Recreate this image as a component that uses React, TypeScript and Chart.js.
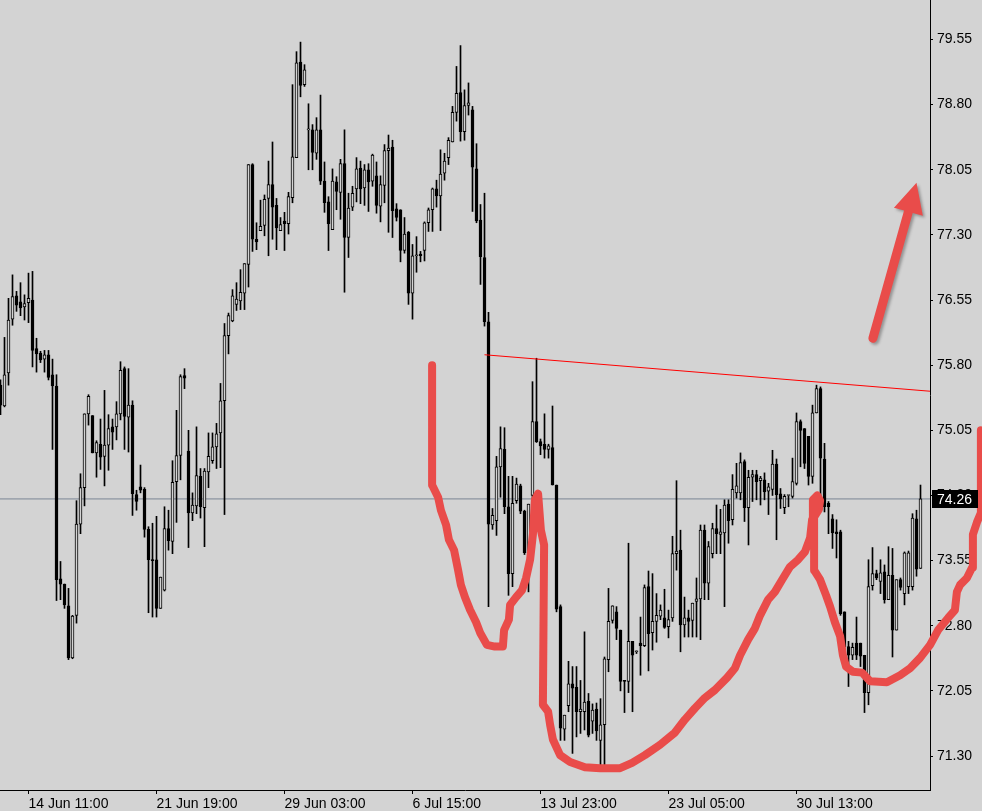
import React, { useEffect, useRef } from "react";
import { Chart, registerables } from "chart.js";

Chart.register(...registerables);

// ---- Candle data (H4 bars, index 0..230) ----
const opens = [
  75.57, 75.33, 75.71, 76.33, 76.60, 76.53, 76.47, 76.52, 76.55, 75.99,
  75.94, 75.87, 75.92, 75.69, 75.56, 73.34, 73.28, 73.03, 72.43, 72.92,
  73.97, 74.39, 75.24, 75.22, 74.79, 74.89, 74.75, 74.88, 75.09, 75.09,
  75.24, 75.76, 75.20, 75.34, 74.31, 74.40, 74.37, 73.91, 73.56, 73.56,
  73.00, 73.21, 73.92, 73.77, 74.46, 74.76, 75.68, 74.81, 74.10, 74.18,
  74.52, 74.16, 74.57, 74.70, 74.86, 75.02, 75.39, 76.14, 76.31, 76.50,
  76.54, 76.63, 76.96, 78.11, 77.25, 77.35, 77.41, 77.72, 77.88, 77.64,
  77.35, 77.46, 77.43, 77.73, 78.19, 79.29, 79.03, 78.51, 78.51, 78.24,
  78.51, 77.92, 77.68, 77.36, 77.91, 77.79, 78.12, 77.27, 77.62, 77.83,
  78.07, 77.84, 78.05, 77.92, 77.98, 77.63, 77.87, 78.27, 78.31, 77.60,
  77.59, 77.12, 77.33, 76.63, 77.06, 77.08, 77.12, 77.44, 77.59, 77.83,
  77.75, 78.01, 78.19, 78.37, 78.71, 78.94, 78.49, 78.79, 78.74, 78.06,
  77.47, 77.04, 76.30, 73.96, 74.01, 74.63, 74.83, 74.17, 73.40, 74.24,
  74.41, 74.12, 73.64, 74.30, 75.15, 74.92, 74.89, 74.83, 74.85, 74.42,
  73.02, 71.61, 71.88, 72.13, 72.09, 71.81, 71.81, 71.93, 71.70, 71.84,
  71.48, 71.66, 72.41, 72.86, 72.96, 72.75, 72.17, 72.16, 72.62, 72.50,
  72.60, 72.57, 73.25, 72.72, 72.85, 72.91, 72.89, 72.79, 72.89, 73.63,
  73.67, 72.81, 72.89, 72.86, 73.08, 73.11, 73.90, 73.29, 73.63, 73.92,
  73.85, 73.87, 74.20, 74.02, 74.33, 74.33, 74.69, 74.16, 74.51, 74.54,
  74.47, 74.48, 74.35, 74.37, 74.66, 74.32, 74.16, 74.30, 74.29, 74.44,
  75.15, 75.07, 74.98, 74.52, 75.25, 75.53, 74.72, 74.21, 74.03, 73.88,
  73.88, 72.96, 72.56, 72.46, 72.60, 72.60, 72.46, 72.03, 73.26, 73.40,
  73.31, 73.42, 73.10, 73.38, 72.75, 73.33, 73.17, 73.25, 73.25, 74.03,
  73.46,
];
const highs = [
  75.63, 76.12, 76.57, 76.84, 76.65, 76.75, 76.61, 76.86, 76.88, 76.11,
  75.96, 75.97, 75.97, 75.87, 75.69, 73.54, 73.28, 73.23, 72.92, 74.24,
  74.55, 75.24, 75.46, 75.22, 74.93, 75.18, 75.51, 75.23, 75.18, 75.38,
  75.84, 75.78, 75.76, 75.39, 74.36, 74.65, 74.39, 73.94, 73.98, 74.06,
  73.36, 74.17, 74.13, 74.70, 75.28, 75.69, 75.76, 75.05, 74.33, 75.09,
  74.61, 74.61, 75.02, 75.02, 75.13, 75.59, 76.28, 76.40, 76.67, 76.75,
  76.90, 76.97, 78.11, 78.12, 77.44, 77.70, 77.76, 78.15, 78.37, 77.72,
  77.50, 77.56, 77.79, 79.03, 79.41, 79.52, 79.26, 78.81, 78.57, 78.65,
  78.91, 78.14, 77.74, 78.06, 77.97, 78.17, 78.51, 77.78, 77.86, 78.19,
  78.15, 78.11, 78.12, 78.23, 78.14, 77.98, 78.34, 78.45, 78.39, 77.66,
  77.59, 77.50, 77.34, 77.19, 77.28, 77.11, 77.45, 77.61, 77.84, 77.93,
  78.28, 78.24, 78.42, 78.78, 79.24, 79.48, 78.97, 79.05, 78.78, 78.35,
  77.65, 77.78, 76.41, 74.15, 74.75, 75.09, 75.08, 74.52, 74.52, 74.50,
  74.43, 74.13, 74.20, 75.61, 75.88, 74.95, 75.24, 74.89, 75.33, 74.42,
  73.04, 71.77, 72.39, 72.33, 72.33, 72.17, 72.73, 72.02, 71.90, 71.91,
  71.96, 72.44, 73.23, 73.03, 73.02, 72.75, 72.17, 73.75, 72.62, 72.51,
  72.90, 73.27, 73.43, 73.40, 73.17, 73.04, 73.22, 72.98, 73.83, 74.47,
  73.90, 73.13, 72.98, 73.06, 73.35, 73.96, 73.96, 73.77, 73.98, 74.19,
  74.14, 74.25, 74.25, 74.54, 74.67, 74.79, 74.71, 74.59, 74.59, 74.59,
  74.52, 74.56, 74.44, 74.82, 74.72, 74.38, 74.31, 74.30, 74.73, 75.25,
  75.17, 75.07, 74.98, 75.34, 75.57, 75.55, 74.90, 74.23, 74.08, 74.02,
  73.90, 72.96, 72.62, 72.60, 72.90, 72.60, 72.46, 73.56, 73.70, 73.44,
  73.56, 73.50, 73.71, 73.69, 73.33, 73.35, 73.65, 73.66, 74.09, 74.13,
  74.42,
];
const lows = [
  75.23, 75.32, 75.57, 76.26, 76.42, 76.37, 76.32, 76.29, 75.78, 75.72,
  75.83, 75.72, 75.63, 74.83, 73.09, 73.10, 73.00, 72.41, 72.42, 72.83,
  73.86, 74.18, 75.11, 74.79, 74.51, 74.60, 74.41, 74.59, 74.83, 74.94,
  75.17, 74.83, 74.80, 74.07, 74.13, 74.33, 73.82, 72.95, 72.90, 72.90,
  73.00, 73.20, 73.67, 73.63, 73.99, 74.48, 75.53, 73.70, 74.01, 74.09,
  74.04, 73.71, 74.39, 74.67, 74.61, 74.62, 74.08, 75.93, 76.30, 76.43,
  76.44, 76.44, 76.70, 77.11, 77.13, 77.35, 77.29, 77.06, 77.25, 77.13,
  77.35, 77.12, 77.31, 77.67, 78.19, 78.89, 79.01, 78.05, 78.05, 78.17,
  77.88, 77.56, 77.12, 77.36, 77.59, 77.48, 76.64, 77.04, 77.58, 77.68,
  77.66, 77.64, 77.57, 77.86, 77.55, 77.45, 77.67, 77.33, 77.27, 77.46,
  76.99, 77.09, 76.50, 76.33, 76.87, 76.99, 77.00, 77.34, 77.34, 77.62,
  77.35, 77.93, 78.11, 78.37, 78.61, 78.38, 78.39, 78.68, 77.57, 77.44,
  76.73, 76.25, 73.02, 73.91, 73.84, 74.28, 74.09, 73.15, 73.25, 74.21,
  74.09, 73.62, 73.19, 74.17, 74.91, 74.77, 74.73, 74.73, 74.42, 72.96,
  71.48, 71.48, 71.81, 71.33, 71.52, 71.56, 71.60, 71.52, 71.56, 71.48,
  71.20, 71.20, 72.27, 72.83, 72.64, 72.05, 71.80, 72.03, 71.81, 72.48,
  72.23, 72.56, 72.28, 72.52, 72.61, 72.87, 72.77, 72.66, 72.85, 73.44,
  72.50, 72.67, 72.67, 72.67, 72.67, 72.64, 73.10, 73.10, 73.58, 73.63,
  73.63, 73.02, 73.75, 73.96, 74.27, 74.25, 74.00, 73.73, 74.23, 74.25,
  74.19, 74.25, 74.08, 74.30, 73.79, 74.15, 74.09, 74.17, 74.27, 74.42,
  74.63, 74.61, 74.42, 74.44, 75.25, 74.15, 74.11, 73.86, 73.69, 73.58,
  72.92, 72.46, 72.10, 72.41, 72.41, 72.33, 71.80, 71.89, 73.21, 73.33,
  73.17, 73.06, 73.10, 72.44, 72.75, 73.21, 73.04, 73.17, 73.21, 73.37,
  73.46,
];
const closes = [
  75.34, 75.69, 76.32, 76.59, 76.49, 76.46, 76.51, 76.57, 75.97, 75.93,
  75.86, 75.92, 75.66, 75.56, 73.33, 73.28, 73.04, 72.43, 72.91, 73.97,
  74.39, 75.24, 75.44, 74.79, 74.91, 74.74, 74.88, 75.07, 75.03, 75.24,
  75.74, 75.21, 75.34, 74.32, 74.23, 74.36, 73.91, 73.56, 73.55, 73.00,
  73.36, 73.92, 73.78, 74.45, 74.76, 75.67, 75.65, 74.10, 74.19, 74.53,
  74.17, 74.58, 74.75, 74.86, 75.01, 75.39, 76.14, 76.37, 76.60, 76.56,
  76.64, 76.97, 78.11, 77.25, 77.22, 77.40, 77.71, 77.88, 77.62, 77.38,
  77.42, 77.43, 77.74, 78.20, 79.28, 79.02, 79.20, 78.51, 78.25, 78.51,
  77.92, 77.67, 77.43, 77.92, 77.80, 78.12, 77.27, 77.61, 77.78, 78.06,
  77.83, 78.05, 77.91, 78.22, 77.64, 77.88, 78.27, 78.30, 77.58, 77.50,
  77.12, 77.31, 76.63, 77.06, 77.06, 77.06, 77.44, 77.59, 77.83, 77.75,
  78.00, 78.15, 78.39, 78.71, 78.93, 78.49, 78.79, 78.82, 78.08, 77.46,
  77.05, 76.30, 73.97, 74.07, 74.63, 74.84, 74.17, 73.40, 74.21, 74.43,
  74.12, 73.64, 74.20, 75.15, 74.92, 74.87, 74.83, 74.87, 74.42, 72.99,
  71.62, 71.77, 72.13, 72.08, 71.81, 71.84, 71.92, 71.54, 71.83, 71.59,
  71.66, 72.42, 72.85, 73.03, 72.77, 72.16, 72.16, 72.62, 72.46, 72.50,
  72.57, 73.24, 72.71, 72.85, 72.92, 72.98, 72.78, 72.87, 73.63, 73.66,
  72.81, 72.89, 72.85, 73.06, 73.11, 73.90, 73.29, 73.71, 73.92, 73.86,
  73.88, 74.19, 74.01, 74.37, 74.41, 74.68, 74.16, 74.51, 74.54, 74.46,
  74.50, 74.34, 74.40, 74.66, 74.31, 74.26, 74.29, 74.30, 74.46, 75.15,
  75.05, 74.67, 74.52, 75.25, 75.53, 74.73, 74.17, 74.17, 73.87, 73.86,
  72.94, 72.56, 72.46, 72.55, 72.46, 72.45, 72.03, 73.25, 73.40, 73.35,
  73.41, 73.10, 73.38, 72.75, 73.33, 73.24, 73.64, 73.64, 74.04, 73.45,
  74.26,
];

// ---- Axis labels ----
const timeTickBars = [7, 39, 71, 103, 135, 167, 199];
const timeTickLabels = [
  "14 Jun 11:00", "21 Jun 19:00", "29 Jun 03:00", "6 Jul 15:00",
  "13 Jul 23:00", "23 Jul 05:00", "30 Jul 13:00",
];
const priceTicks = [71.3, 72.05, 72.8, 73.55, 74.3, 75.05, 75.8, 76.55, 77.3, 78.05, 78.8, 79.55];
const currentPrice = 74.26;

// ---- Annotations (bar index, price) ----
const trendX = [121, 232.4];
const trendY = [75.92, 75.5];
const cupX = [
  107.9, 107.9, 109.4, 110.1, 111.4, 112.1, 113.4, 114.4, 115.1, 116.1,
  117.4, 118.9, 119.9, 121.6, 123.6, 125.6, 125.9, 127.1, 127.4, 128.9,
  130.4, 131.4, 132.4, 133.1, 133.6, 134.4, 135.1, 135.9, 135.6, 136.9,
  137.4, 138.1, 139.9, 142.4, 146.1, 149.9, 154.9, 157.9, 161.1, 164.9,
  168.6, 171.1, 173.6, 176.1, 178.6, 181.6, 183.6, 184.9, 186.9, 188.6,
  189.9, 191.9, 193.6, 195.4, 197.4, 199.4, 201.1, 202.4, 202.9, 203.1,
  204.2, 204.9, 204.6, 203.4, 203.4, 204.9, 206.4, 207.4, 208.6,
  209.9, 210.6, 211.4, 213.1, 215.4, 217.4, 221.6, 224.9, 227.4, 229.9,
  232.4, 234.4, 236.9, 238.6, 239.1, 239.9, 241.6, 242.9, 243.1, 244.1,
  245.1, 245.1,
];
const cupY = [
  75.8, 74.42, 74.28, 74.13, 73.96, 73.79, 73.67, 73.44, 73.27, 73.13,
  72.98, 72.84, 72.72, 72.58, 72.56, 72.56, 72.75, 72.87, 73.04, 73.13,
  73.21, 73.35, 73.56, 73.85, 74.25, 74.32, 73.9, 73.73, 71.89, 71.81,
  71.66, 71.49, 71.31, 71.23, 71.17, 71.16, 71.16, 71.22, 71.31, 71.43,
  71.57, 71.72, 71.85, 71.97, 72.06, 72.2, 72.31, 72.46, 72.64, 72.77,
  72.92, 73.1, 73.19, 73.33, 73.48, 73.56, 73.65, 73.81, 74.02, 74.25,
  74.3, 74.24, 74.14, 74.05, 73.44, 73.33, 73.15, 73.02, 72.84,
  72.68, 72.46, 72.33, 72.27, 72.26, 72.16, 72.15, 72.23, 72.31, 72.43,
  72.58, 72.75, 72.89, 72.98, 73.19, 73.27, 73.35, 73.47, 73.85, 73.99,
  74.1, 75.05,
];
const arrowX = [218.1, 229.0];
const arrowY = [76.11, 77.9];

const BG = "#d3d3d3";
const RED = "#e94c4a";
const FONT = "Liberation Sans";
const X_MIN = -0.125;
const X_MAX = 232.375;
const Y_MIN = 70.9086;
const Y_MAX = 80.0048;

const overlayPlugin = {
  id: "overlay",
  afterDatasetsDraw(chart: any) {
    const { ctx, scales } = chart;
    const xs = scales.x;
    const ys = scales.y;
    const x0 = xs.getPixelForValue(arrowX[0]);
    const y0 = ys.getPixelForValue(arrowY[0]);
    const x1 = xs.getPixelForValue(arrowX[1]);
    const y1 = ys.getPixelForValue(arrowY[1]);
    const ang = Math.atan2(y1 - y0, x1 - x0);
    const c = Math.cos(ang);
    const s = Math.sin(ang);
    const nx = -s;
    const ny = c;
    const headLen = 30;
    const headW = 30;
    const sw = 9;
    const bx = x1 - headLen * c;
    const by = y1 - headLen * s;
    ctx.save();
    ctx.shadowColor = "rgba(0,0,0,0.3)";
    ctx.shadowBlur = 3;
    ctx.shadowOffsetX = 2;
    ctx.shadowOffsetY = 2;
    ctx.fillStyle = RED;
    ctx.beginPath();
    ctx.moveTo(x0 + (nx * sw) / 2, y0 + (ny * sw) / 2);
    ctx.lineTo(bx + (nx * sw) / 2, by + (ny * sw) / 2);
    ctx.lineTo(bx + (nx * headW) / 2, by + (ny * headW) / 2);
    ctx.lineTo(x1, y1);
    ctx.lineTo(bx - (nx * headW) / 2, by - (ny * headW) / 2);
    ctx.lineTo(bx - (nx * sw) / 2, by - (ny * sw) / 2);
    ctx.lineTo(x0 - (nx * sw) / 2, y0 - (ny * sw) / 2);
    ctx.arc(x0, y0, sw / 2, ang + Math.PI / 2, ang + (3 * Math.PI) / 2);
    ctx.closePath();
    ctx.fill();
    ctx.restore();
  },
  afterDraw(chart: any) {
    const { ctx, scales, chartArea } = chart;
    const yp = scales.y.getPixelForValue(currentPrice);
    ctx.save();
    ctx.fillStyle = "#000";
    ctx.fillRect(chartArea.right + 2, Math.round(yp) - 9, 46, 18);
    ctx.fillStyle = "#fff";
    ctx.font = `14px "${FONT}"`;
    ctx.textBaseline = "middle";
    ctx.textAlign = "left";
    ctx.fillText(currentPrice.toFixed(2), chartArea.right + 7, yp + 1);
    ctx.restore();
  },
};

export default function App() {
  const ref = useRef<HTMLCanvasElement>(null);

  useEffect(() => {
    document.body.style.margin = "0";
    const idx = opens.map((_, i) => i);
    const bodyData = idx.map((i) => ({ x: i, y: [opens[i], closes[i]] }));
    const wickData = idx.map((i) => ({ x: i, y: [lows[i], highs[i]] }));
    const bodyFill = idx.map((i) => (closes[i] >= opens[i] ? BG : "#000"));

    const chart = new Chart(ref.current as HTMLCanvasElement, {
      type: "bar",
      data: {
        datasets: [
          {
            type: "line",
            data: cupX.map((x, i) => ({ x, y: cupY[i] })),
            borderColor: RED,
            borderWidth: 8,
            pointRadius: 0,
            tension: 0,
            clip: false,
            borderJoinStyle: "round",
            borderCapStyle: "round",
            order: 0,
          } as any,
          {
            type: "line",
            data: trendX.map((x, i) => ({ x, y: trendY[i] })),
            borderColor: "#ff0000",
            borderWidth: 1,
            pointRadius: 0,
            order: 1,
          } as any,
          {
            type: "bar",
            data: bodyData,
            backgroundColor: bodyFill,
            borderColor: "#000",
            borderWidth: 1,
            borderSkipped: false,
            barThickness: 3,
            minBarLength: 1,
            grouped: false,
            order: 2,
          } as any,
          {
            type: "bar",
            data: wickData,
            backgroundColor: "#000",
            borderWidth: 0,
            barThickness: 1,
            grouped: false,
            order: 3,
          } as any,
          {
            type: "line",
            data: [
              { x: X_MIN, y: currentPrice },
              { x: X_MAX, y: currentPrice },
            ],
            borderColor: "#7a8594",
            borderWidth: 1,
            pointRadius: 0,
            order: 4,
          } as any,
        ],
      },
      options: {
        responsive: false,
        maintainAspectRatio: false,
        animation: false,
        events: [],
        layout: { padding: { top: 0, left: 0, right: 0, bottom: 0 } },
        plugins: {
          legend: { display: false },
          tooltip: { enabled: false },
        },
        scales: {
          x: {
            type: "linear",
            min: X_MIN,
            max: X_MAX,
            offset: false,
            afterFit: (scale: any) => {
              scale.height = 21;
              scale.paddingLeft = 0;
              scale.paddingRight = 0;
            },
            afterBuildTicks: (scale: any) => {
              scale.ticks = timeTickBars.map((v) => ({ value: v }));
            },
            grid: {
              display: true,
              drawOnChartArea: false,
              drawTicks: true,
              tickLength: 4,
              color: "#000",
              offset: false,
            },
            border: { display: true, color: "#000", width: 1 },
            ticks: {
              autoSkip: false,
              maxRotation: 0,
              minRotation: 0,
              align: "start",
              padding: 2,
              color: "#000",
              font: { family: FONT, size: 14 },
              callback: (value: any) => {
                const i = timeTickBars.indexOf(Number(value));
                return i >= 0 ? timeTickLabels[i] : "";
              },
            },
          },
          y: {
            type: "linear",
            position: "right",
            min: Y_MIN,
            max: Y_MAX,
            afterFit: (scale: any) => {
              scale.width = 52;
              scale.paddingTop = 0;
              scale.paddingBottom = 0;
            },
            afterBuildTicks: (scale: any) => {
              scale.ticks = priceTicks.map((v) => ({ value: v }));
            },
            grid: {
              display: true,
              drawOnChartArea: false,
              drawTicks: true,
              tickLength: 3,
              color: "#000",
            },
            border: { display: true, color: "#000", width: 1 },
            ticks: {
              autoSkip: false,
              padding: 4,
              color: "#000",
              font: { family: FONT, size: 14 },
              callback: (value: any) => Number(value).toFixed(2),
            },
          },
        },
      } as any,
      plugins: [overlayPlugin],
    });
    return () => chart.destroy();
  }, []);

  return (
    <div
      style={{
        position: "fixed",
        left: 0,
        top: 0,
        width: 982,
        height: 811,
        background: BG,
        overflow: "hidden",
      }}
    >
      <canvas ref={ref} width={982} height={811} style={{ display: "block" }} />
    </div>
  );
}
